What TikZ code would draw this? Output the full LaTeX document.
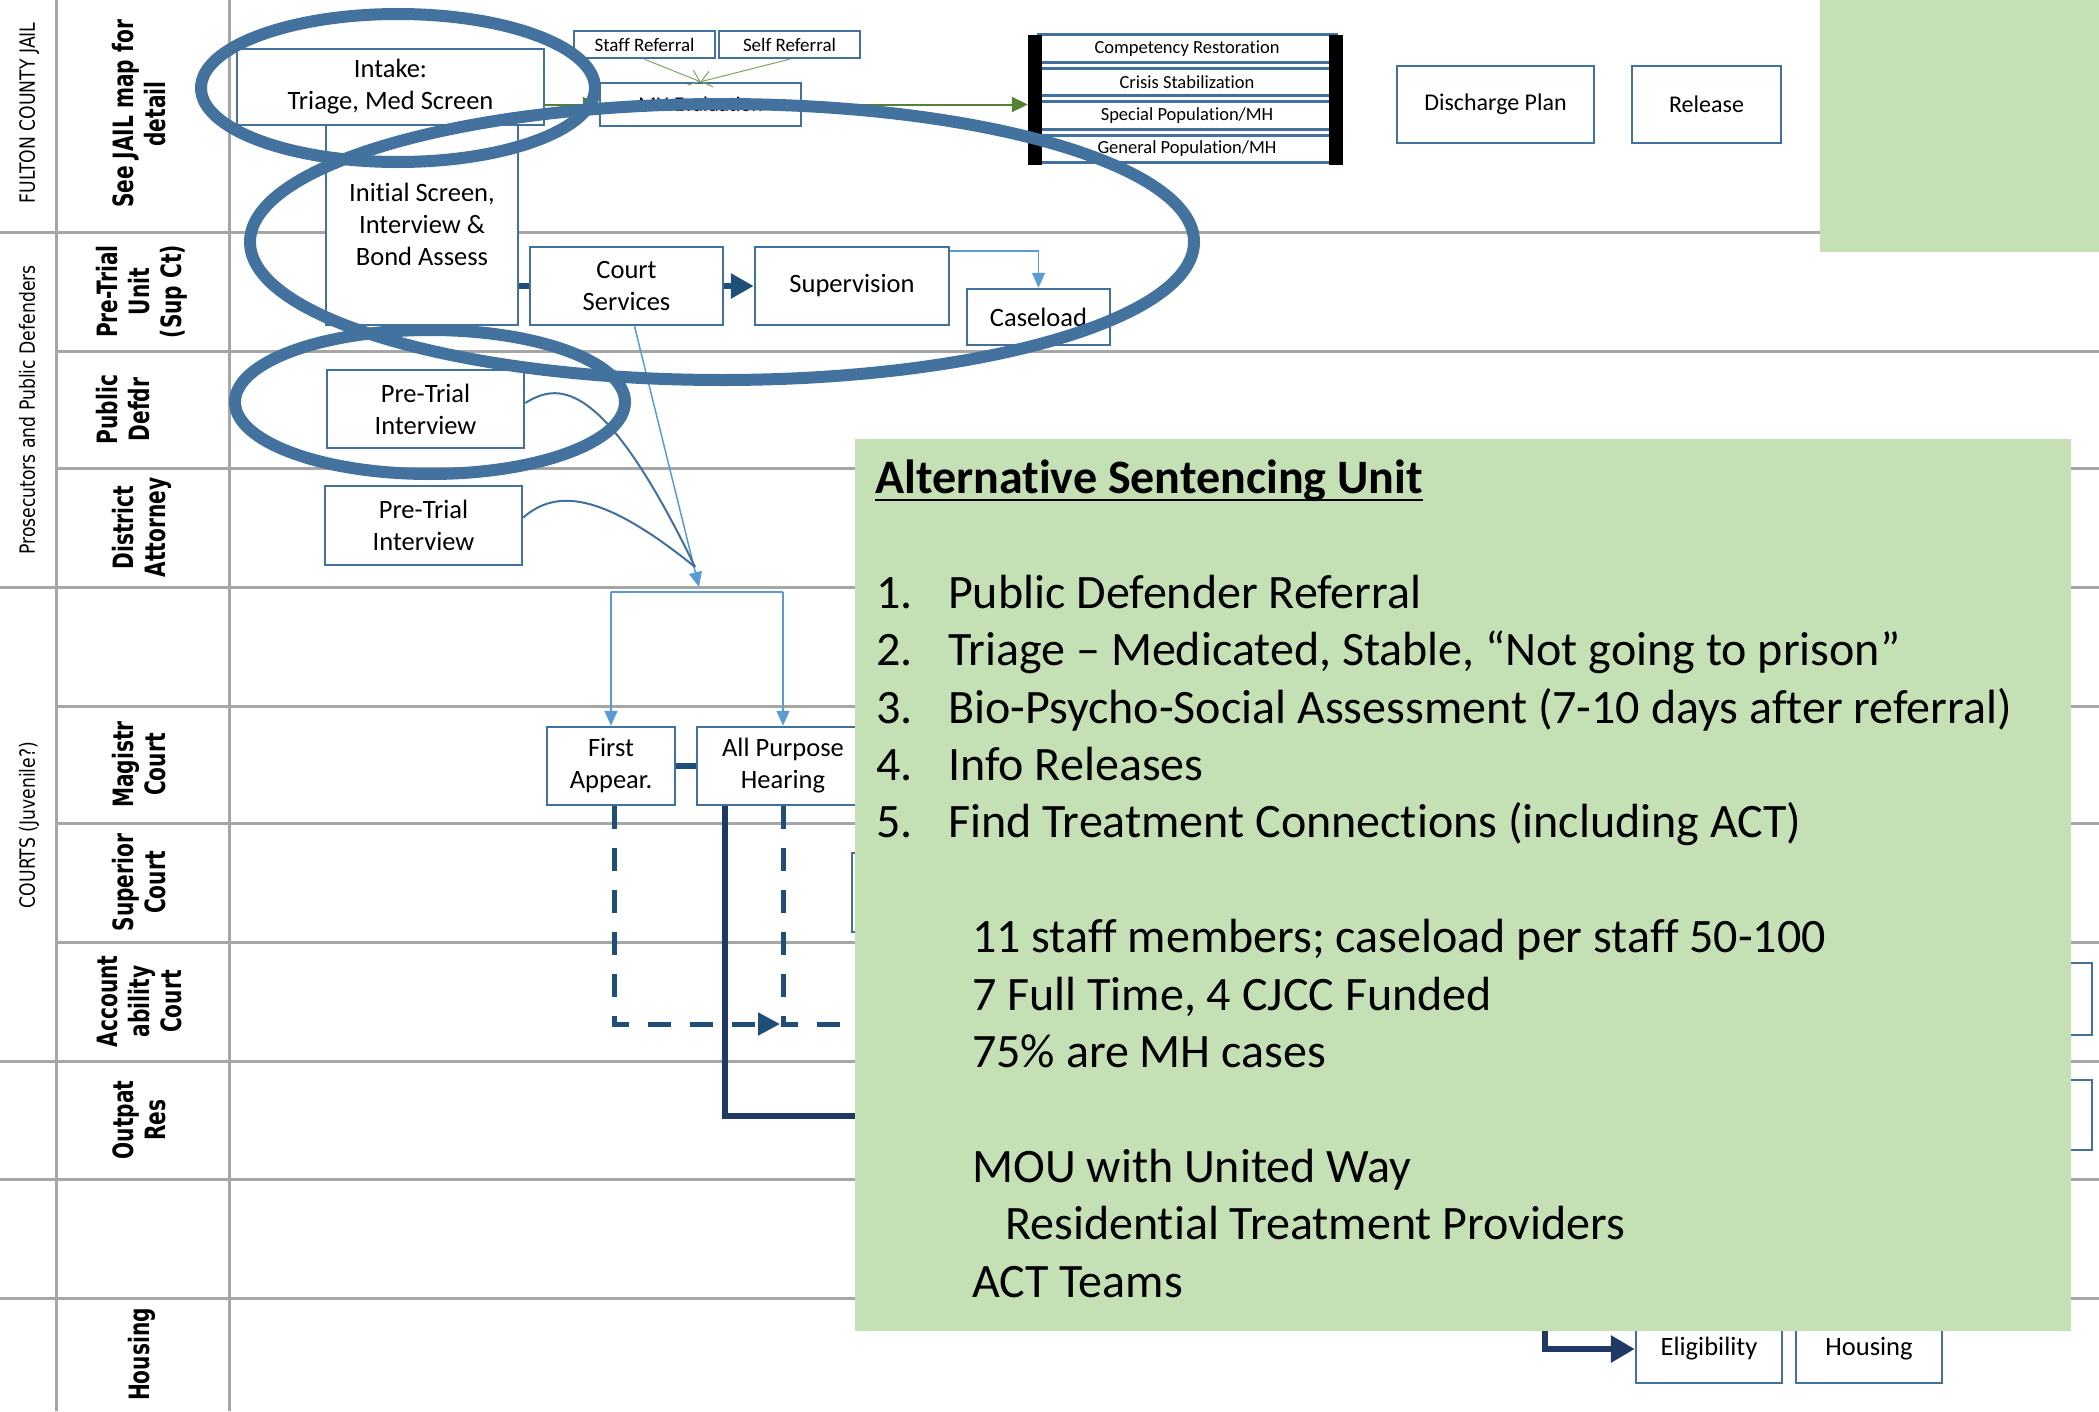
\documentclass[tikz,border=0pt]{standalone}
\usepackage{fontspec}
\usepackage{tikz}
\usetikzlibrary{positioning,arrows.meta}
\newfontfamily\boxfont[Ligatures=NoCommon]{Carlito}
\newfontfamily\lanefont{DejaVu Sans}
\definecolor{lanegray}{RGB}{166,166,166}
\definecolor{boxblue}{RGB}{65,113,156}
\definecolor{ringblue}{RGB}{67,114,159}
\definecolor{flownavy}{RGB}{31,78,121}
\definecolor{darknavy}{RGB}{32,56,100}
\definecolor{skyflow}{RGB}{91,155,213}
\definecolor{flowgreen}{RGB}{84,130,53}
\definecolor{asugreen}{RGB}{197,224,180}
\newcommand{\lanetext}[2][.72]{\scalebox{#1}[1]{\begin{tabular}{@{}c@{}}#2\end{tabular}}}
\tikzset{
  lane/.style={draw=lanegray, line width=3pt},
  box/.style={draw=boxblue, line width=2.5pt, fill=white, inner sep=0pt, align=center,
    font=\boxfont\fontsize{26.5}{32}\selectfont},
  smallbox/.style={box, minimum width=141pt, minimum height=27pt,
    font=\boxfont\fontsize{19}{23}\selectfont},
  stackrow/.style={box, line width=3pt, minimum width=298pt, minimum height=27.5pt,
    font=\boxfont\fontsize{18.5}{22}\selectfont},
  stackbar/.style={fill=black, inner sep=0pt, minimum width=14pt, minimum height=130pt},
  grouplab/.style={rotate=90, inner sep=0pt, font=\lanefont\fontsize{21}{24}\selectfont},
  lanelab/.style={rotate=90, inner sep=0pt, font=\lanefont\bfseries\fontsize{28}{32}\selectfont},
  greenflow/.style={draw=flowgreen, line width=2pt, -{Triangle[length=16pt,width=15pt]}},
  reflink/.style={draw=flowgreen!75!white, line width=1pt, -{Straight Barb[length=10pt,width=16pt]}},
  navylink/.style={draw=flownavy, line width=6pt},
  navyflow/.style={navylink, -{Triangle[length=23pt,width=24pt]}},
  navypath/.style={draw=darknavy, line width=6.5pt},
  skylink/.style={draw=skyflow, line width=1.5pt},
  skyarrow/.style={skylink, -{Triangle[length=15pt,width=13pt]}},
  curvelink/.style={draw=boxblue, line width=2pt},
  dashflow/.style={draw=flownavy, line width=5pt, dash pattern=on 23pt off 19pt},
  ring/.style={draw=ringblue, line width=12pt},
  asutext/.style={inner sep=0pt, align=left, font=\boxfont\fontsize{48}{57.4}\selectfont}
}

\begin{document}
\begin{tikzpicture}[x=1pt,y=-1pt]
\useasboundingbox (0,0) rectangle (2099,1411);

% swimlanes
\foreach \y in {232,587,1061,1179,1298}
  \draw[lane] (0,\y) -- (2099,\y);
\foreach \y in {351,468,706,823,942}
  \draw[lane] (56,\y) -- (2099,\y);
\foreach \x in {56,229}
  \draw[lane] (\x,0) -- (\x,1411);

% lane titles
\node[grouplab] (gjail) at (30,113) {\lanetext[.82]{FULTON COUNTY JAIL}};
\node[grouplab] (gpros) at (30,410) {\lanetext[.82]{Prosecutors and Public Defenders}};
\node[grouplab] (gcourts) at (30,825) {\lanetext[.82]{COURTS (Juvenile?)}};

\node[lanelab] (ljail) at (143,114) {\lanetext{See JAIL map for\\detail}};
\node[lanelab] (lpretrial) at (143,291.5) {\lanetext{Pre-Trial\\Unit\\(Sup Ct)}};
\node[lanelab] (lpubdef) at (127,409.5) {\lanetext{Public\\Defdr}};
\node[lanelab] (lda) at (143,527.5) {\lanetext{District\\Attorney}};
\node[lanelab] (lmag) at (143,764.5) {\lanetext{Magistr\\Court}};
\node[lanelab] (lsup) at (143,882.5) {\lanetext{Superior\\Court}};
\node[lanelab] (lacct) at (143,1001.5) {\lanetext{Account\\ability\\Court}};
\node[lanelab] (loutpat) at (143,1120) {\lanetext{Outpat\\Res}};
\node[lanelab] (lhousing) at (143,1354.5) {\lanetext{Housing}};

% jail
\node[box, minimum width=192pt, minimum height=201pt] (initscr) at (422,224.5) {Initial Screen,\\Interview \&\\Bond Assess};
\node[box, minimum width=307pt, minimum height=76pt] (intake) at (390.5,87) {Intake:\\Triage, Med Screen};
\node[smallbox] (staffref) at (644.5,44.5) {Staff Referral};
\node[smallbox, right=1.5pt of staffref] (selfref) {Self Referral};
\node[box, minimum width=201pt, minimum height=43pt, font=\boxfont\fontsize{21}{25}\selectfont] (mheval) at (700.5,104.5) {MH Evaluation};

\node[stackrow] (comprest) at (1187,48.5) {Competency Restoration};
\node[stackrow, below=3pt of comprest] (crisis) {Crisis Stabilization};
\node[stackrow, below=3pt of crisis] (specpop) {Special Population/MH};
\node[stackrow, below=3pt of specpop] (genpop) {General Population/MH};
\node[stackbar] (barL) at (1035,100) {};
\node[stackbar] (barR) at (1335.5,100) {};

\node[box, minimum width=197pt, minimum height=77pt, font=\boxfont\fontsize{24}{28}\selectfont] (discharge) at (1495.5,104.5) {Discharge Plan};
\node[box, minimum width=149pt, minimum height=77pt, font=\boxfont\fontsize{24}{28}\selectfont, right=35.5pt of discharge] (release) {Release};

% pre-trial and defense
\node[box, minimum width=193pt, minimum height=78pt] (courtsvc) at (626.5,286) {Court\\Services};
\node[box, minimum width=194pt, minimum height=78pt, right=29.5pt of courtsvc] (supervision) {Supervision};
\node[box, minimum width=143pt, minimum height=56pt] (caseload) at (1038.5,317) {Caseload};
\node[box, minimum width=197pt, minimum height=78pt] (pdint) at (425.5,409) {Pre-Trial\\Interview};
\node[box, minimum width=197pt, minimum height=79pt] (daint) at (423.5,525.5) {Pre-Trial\\Interview};

% courts
\node[box, minimum width=128pt, minimum height=78pt] (firstapp) at (611,766) {First\\Appear.};
\node[box, minimum width=172pt, minimum height=78pt, right=19.5pt of firstapp] (allpurp) {All Purpose\\Hearing};
\node[box, minimum width=148pt, minimum height=79pt] (acctbox) at (926,892.5) {};
\node[box, minimum width=142pt, minimum height=72pt] (outpatbox) at (2021,999) {};
\node[box, minimum width=142pt, minimum height=70pt] (resbox) at (2021,1115) {};

% housing
\node[box, minimum width=146pt, minimum height=68pt] (elig) at (1709,1349) {Eligibility};
\node[box, minimum width=146pt, minimum height=68pt, right=11.5pt of elig] (housing) {Housing};

% connectors
\coordinate (meet) at (699,587);
\coordinate (join) at (695,567);
\coordinate (forkL) at (611,592);
\coordinate (forkR) at (783,592);
\coordinate (acctarrow) at (780,1024);
\coordinate (acctend) at (930,1024);
\coordinate (outpatend) at (930,1116);
\coordinate (eligfrom) at (1545,1300);

\draw[greenflow] (intake.east |- mheval.west) -- (mheval.west);
\draw[greenflow] (mheval.east) -- (barL.west |- mheval.east);
\draw[reflink] (staffref.south) -- (mheval.north);
\draw[reflink] (selfref.south) -- (mheval.north);

\draw[navylink] (initscr.east |- courtsvc.west) -- (courtsvc.west);
\draw[navyflow] (courtsvc) -- (supervision);
\draw[skyarrow] ([yshift=-5pt]supervision.north east) -| (caseload.north);
\draw[skyarrow] ([xshift=8pt]courtsvc.south) -- (meet);
\draw[curvelink] ([yshift=6pt]pdint.east) .. controls (555,385) and (600,370) .. (join);
\draw[curvelink] ([yshift=8pt]daint.east) .. controls (555,490) and (600,490) .. (join);

\draw[skylink] (forkL) -- (forkR);
\draw[skyarrow] (forkL) -- (firstapp.north);
\draw[skyarrow] (forkR) -- (allpurp.north);
\draw[navylink] (firstapp) -- (allpurp);
\draw[dashflow, -{Triangle[length=22pt,width=22pt]}] ([xshift=3pt]firstapp.south) |- (acctarrow);
\draw[dashflow] (allpurp.south) |- (acctend);
\draw[navypath] ([xshift=-58pt]allpurp.south) |- (outpatend);
\draw[navypath, -{Triangle[length=24pt,width=26pt]}] (eligfrom) |- (elig.west);

% circled areas
\draw[ring] (398,88) ellipse [x radius=197pt, y radius=74pt];
\draw[ring] (722,242) ellipse [x radius=472pt, y radius=138pt];
\draw[ring] (430,402) ellipse [x radius=195pt, y radius=72pt];

% alternative sentencing unit
\fill[asugreen] (1820,0) rectangle (2099,252);
\fill[asugreen] (855,439) rectangle (2071,1331);
\node[asutext, anchor=base west, font=\boxfont\bfseries\fontsize{48}{57.4}\selectfont] (asutitle) at (875,493) {Alternative Sentencing Unit};
\draw[line width=2.5pt] ([yshift=-7pt]asutitle.base west) -- ([yshift=-7pt]asutitle.base east);
\node[asutext, anchor=base west] (asulist) at (876,1297) {%
\makebox[72pt][l]{1.}Public Defender Referral\\
\makebox[72pt][l]{2.}Triage – Medicated, Stable, “Not going to prison”\\
\makebox[72pt][l]{3.}Bio-Psycho-Social Assessment (7-10 days after referral)\\
\makebox[72pt][l]{4.}Info Releases\\
\makebox[72pt][l]{5.}Find Treatment Connections (including ACT)\\[57.4pt]
\hspace*{96pt}11 staff members; caseload per staff 50-100\\
\hspace*{96pt}7 Full Time, 4 CJCC Funded\\
\hspace*{96pt}75\% are MH cases\\[57.4pt]
\hspace*{96pt}MOU with United Way\\
\hspace*{129pt}Residential Treatment Providers\\
\hspace*{96pt}ACT Teams};
\end{tikzpicture}
\end{document}
